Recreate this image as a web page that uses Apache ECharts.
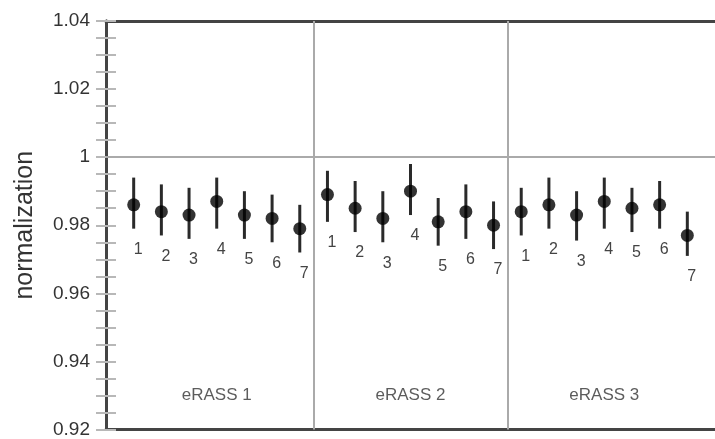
<!DOCTYPE html>
<html>
<head>
<meta charset="utf-8">
<script src="https://cdn.jsdelivr.net/npm/echarts@6/dist/echarts.min.js"></script>
<style>
html,body{margin:0;padding:0;background:#fff;}
#chart{width:715px;height:439px;}
</style>
</head>
<body>
<div id="chart"></div>
<script>
// ---- data ----
const panelNames = ['eRASS 1', 'eRASS 2', 'eRASS 3'];
const tmLabels = ['1', '2', '3', '4', '5', '6', '7'];

const erass1Val = [0.986, 0.984, 0.983, 0.987, 0.983, 0.982, 0.979];
const erass1Lo  = [0.979, 0.977, 0.976, 0.979, 0.976, 0.975, 0.972];
const erass1Hi  = [0.994, 0.992, 0.991, 0.994, 0.990, 0.989, 0.986];

const erass2Val = [0.989, 0.985, 0.982, 0.990, 0.981, 0.984, 0.980];
const erass2Lo  = [0.981, 0.978, 0.975, 0.983, 0.974, 0.976, 0.973];
const erass2Hi  = [0.996, 0.993, 0.990, 0.998, 0.988, 0.992, 0.987];

const erass3Val = [0.984, 0.986, 0.983, 0.987, 0.985, 0.986, 0.977];
const erass3Lo  = [0.977, 0.979, 0.9755, 0.979, 0.978, 0.979, 0.971];
const erass3Hi  = [0.991, 0.994, 0.990, 0.994, 0.991, 0.993, 0.984];

const yTicks = [0.92, 0.94, 0.96, 0.98, 1, 1.02, 1.04];
const panelLabelY = 0.930;
const referenceLevel = 1;

// ---- build series data ----
const vals = [erass1Val, erass2Val, erass3Val];
const los = [erass1Lo, erass2Lo, erass3Lo];
const his = [erass1Hi, erass2Hi, erass3Hi];
const points = [], bars = [], names = [], dividers = [];
vals.forEach((arr, p) => {
  arr.forEach((v, i) => {
    const x = p * 7 + i + 1;
    points.push([x, v]);
    bars.push([x, los[p][i], his[p][i], tmLabels[i]]);
  });
  names.push([p * 7 + 4, panelLabelY, panelNames[p]]);
  if (p > 0) dividers.push({xAxis: p * 7 + 0.5});
});

const FONT = '"Liberation Sans", Arial, Helvetica, sans-serif';
const chart = echarts.init(document.getElementById('chart'), null, {renderer: 'canvas'});

const yAxisCommon = {
  type: 'value',
  min: yTicks[0],
  max: yTicks[yTicks.length - 1],
  interval: 0.02,
  splitLine: {show: false},
  axisLine: {show: true, lineStyle: {color: '#444', width: 3}},
  axisTick: {show: true, inside: true, length: 10, lineStyle: {color: '#b8b8b8', width: 2}},
  minorTick: {show: true, splitNumber: 4, length: 10, lineStyle: {color: '#b8b8b8', width: 2}},
  minorSplitLine: {show: false}
};

chart.setOption({
  animation: false,
  backgroundColor: '#fff',
  grid: {left: 106, top: 21, right: -7, bottom: 8, containLabel: false},
  xAxis: [
    {type: 'value', position: 'bottom', min: 0, max: 22,
     axisLine: {show: true, onZero: false, lineStyle: {color: '#444', width: 3}},
     axisTick: {show: false}, axisLabel: {show: false}, splitLine: {show: false}},
    {type: 'value', position: 'top', min: 0, max: 22,
     axisLine: {show: true, onZero: false, lineStyle: {color: '#444', width: 3}},
     axisTick: {show: false}, axisLabel: {show: false}, splitLine: {show: false}}
  ],
  yAxis: [
    Object.assign({}, yAxisCommon, {
      position: 'left',
      name: 'normalization',
      nameLocation: 'middle',
      nameGap: 68,
      nameTextStyle: {fontFamily: FONT, fontSize: 25, color: '#333'},
      axisLabel: {show: true, margin: 16, fontFamily: FONT, fontSize: 19, color: '#333',
        formatter: v => String(+v.toFixed(2))}
    }),
    Object.assign({}, yAxisCommon, {
      position: 'right',
      axisLabel: {show: false}
    })
  ],
  series: [
    {
      type: 'line', data: [], xAxisIndex: 0, yAxisIndex: 0, silent: true,
      markLine: {
        silent: true, symbol: 'none', label: {show: false},
        lineStyle: {color: '#aaa', width: 2, type: 'solid'},
        data: dividers.concat([{yAxis: referenceLevel}])
      }
    },
    {
      type: 'custom', xAxisIndex: 0, yAxisIndex: 0, silent: true, z: 3,
      data: bars,
      renderItem: function (params, api) {
        const x = api.value(0);
        const p1 = api.coord([x, api.value(1)]);
        const p2 = api.coord([x, api.value(2)]);
        return {
          type: 'group',
          children: [
            {type: 'line', shape: {x1: p1[0], y1: p1[1], x2: p2[0], y2: p2[1]},
             style: {stroke: '#2a2a2a', lineWidth: 3}},
            {type: 'text', x: p1[0] + 4.5, y: p1[1] + 21,
             style: {text: String(bars[params.dataIndex][3]), fill: '#444',
                     font: '16px ' + FONT, textAlign: 'center', textVerticalAlign: 'middle'}}
          ]
        };
      }
    },
    {
      type: 'scatter', xAxisIndex: 0, yAxisIndex: 0, silent: true, z: 4,
      symbol: 'circle', symbolSize: 13,
      itemStyle: {color: '#000'},
      data: points
    },
    {
      type: 'scatter', xAxisIndex: 0, yAxisIndex: 0, silent: true, z: 4,
      symbolSize: 0,
      data: names,
      label: {show: true, position: 'inside', formatter: p => p.value[2],
              fontFamily: FONT, fontSize: 17, color: '#333'}
    }
  ]
});
</script>
</body>
</html>
